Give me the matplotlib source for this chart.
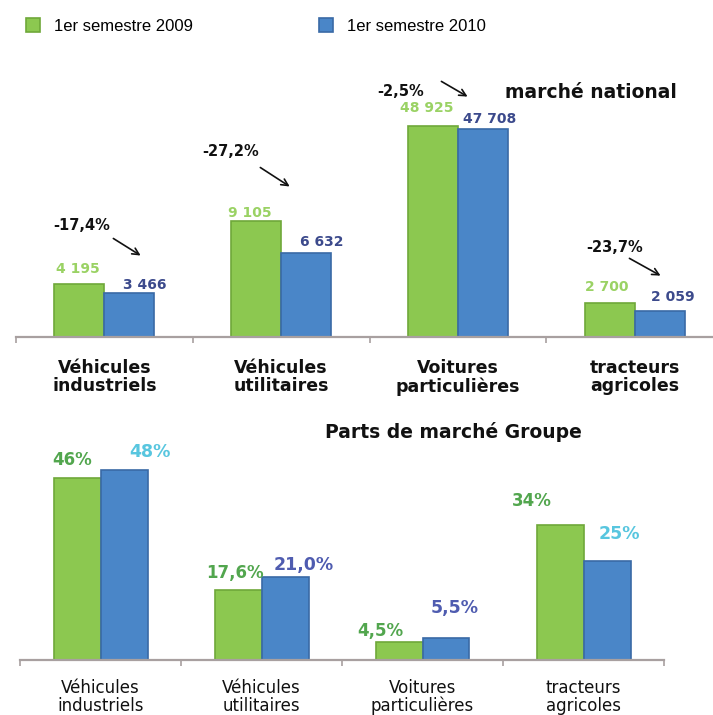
import numpy as np
import matplotlib
matplotlib.use("Agg")
import matplotlib.pyplot as plt

# ---------------- data ----------------
categories = ["Véhicules\nindustriels", "Véhicules\nutilitaires",
              "Voitures\nparticulières", "tracteurs\nagricoles"]
series_names = ["1er semestre 2009", "1er semestre 2010"]

national_2009 = [4195, 9105, 48925, 2700]
national_2010 = [3466, 6632, 47708, 2059]
national_labels_2009 = ["4 195", "9 105", "48 925", "2 700"]
national_labels_2010 = ["3 466", "6 632", "47 708", "2 059"]
national_change = ["-17,4%", "-27,2%", "-2,5%", "-23,7%"]

share_2009 = [46, 17.6, 4.5, 34]
share_2010 = [48, 21.0, 5.5, 25]
share_labels_2009 = ["46%", "17,6%", "4,5%", "34%"]
share_labels_2010 = ["48%", "21,0%", "5,5%", "25%"]

title_top = "marché national"
title_bottom = "Parts de marché Groupe"

# ---------------- style ----------------
GREEN = "#8cc850"
GREEN_EDGE = "#6fa83a"
BLUE = "#4a86c8"
BLUE_EDGE = "#3a6aa6"
AXIS_C = "#a8a0a0"
LBL_GREEN_TOP = "#9ad264"
LBL_NAVY_TOP = "#3c4a8c"
LBL_GREEN_BOT = "#52a64e"
LBL_CYAN = "#58c6df"
LBL_PURPLE = "#4f5cb0"

W, H = 713, 715
fig = plt.figure(figsize=(W / 100, H / 100), dpi=100)
fig.patch.set_facecolor("white")


def fx(px):
    return px / W


def fy(py):
    return 1 - py / H


# broken-style scale for the national market panel (large category compressed)
B, K = 10000.0, 0.17


def fwd(v):
    v = np.asarray(v, dtype=float)
    return np.where(v <= B, v, B + (v - B) * K)


def inv(t):
    t = np.asarray(t, dtype=float)
    return np.where(t <= B, t, B + (t - B) / K)


def style_axis(ax, nb):
    for s in ["left", "right", "top"]:
        ax.spines[s].set_visible(False)
    ax.spines["bottom"].set_color(AXIS_C)
    ax.spines["bottom"].set_linewidth(1.6)
    ax.set_yticks([])
    ax.set_xlim(0, nb)
    ax.set_xticks(np.arange(nb + 1))
    ax.set_xticklabels([])
    ax.tick_params(axis="x", which="major", length=4, width=1.2, color=AXIS_C, direction="out")
    ax.set_xticks(np.arange(nb) + 0.5, minor=True)
    ax.tick_params(axis="x", which="minor", length=0)
    ax.patch.set_alpha(0)


n = len(categories)
x = np.arange(n) + 0.5

# ---------------- top panel ----------------
ax1 = fig.add_axes([fx(16), fy(337), fx(723) - fx(16), (337 - 60) / H])
ax1.set_yscale("function", functions=(fwd, inv))
px_per_unit = 0.0127
ax1.set_ylim(0, float(inv((337 - 60) / px_per_unit)))
style_axis(ax1, n)
w1 = 50 / 176.75
b1 = ax1.bar(x - w1 / 2, national_2009, w1, color=GREEN, edgecolor=GREEN_EDGE,
             linewidth=1.2, label=series_names[0], zorder=2)
b2 = ax1.bar(x + w1 / 2, national_2010, w1, color=BLUE, edgecolor=BLUE_EDGE,
             linewidth=1.2, label=series_names[1], zorder=2)
ax1.set_xticklabels(categories, minor=True, fontsize=12.5, fontweight="bold",
                    color="#111111", linespacing=1.0)
ax1.tick_params(axis="x", which="minor", pad=16)

off_top_g = [(-1, 15), (-6, 8), (-6, 18), (-3, 16)]
off_top_b = [(15, 8), (16, 11), (7, 10), (13, 14)]
for i in range(n):
    ax1.annotate(national_labels_2009[i], (x[i] - w1 / 2, national_2009[i]),
                 xytext=off_top_g[i], textcoords="offset pixels", ha="center", va="center",
                 fontsize=10, fontweight="bold", color=LBL_GREEN_TOP)
    ax1.annotate(national_labels_2010[i], (x[i] + w1 / 2, national_2010[i]),
                 xytext=off_top_b[i], textcoords="offset pixels", ha="center", va="center",
                 fontsize=10, fontweight="bold", color=LBL_NAVY_TOP)

# change annotations (image pixel positions)
chg_text_pos = [(82, 226), (231, 152), (401, 92), (615, 247)]
chg_arrows = [((111, 237), (143, 257)), ((258, 166), (292, 188)),
              ((439, 80), (470, 98)), ((627, 257), (663, 277))]
for i in range(n):
    tx, ty = chg_text_pos[i]
    fig.text(fx(tx), fy(ty), national_change[i], ha="center", va="center",
             fontsize=10.5, fontweight="bold", color="#111111")
    (x0, y0), (x1, y1) = chg_arrows[i]
    fig.add_artist(matplotlib.patches.FancyArrowPatch(
        (fx(x0), fy(y0)), (fx(x1), fy(y1)), transform=fig.transFigure,
        arrowstyle="->", mutation_scale=12, color="#111111", linewidth=1.2))

fig.text(fx(591), fy(93), title_top, ha="center", va="center",
         fontsize=13.5, fontweight="bold", color="#111111")

# ---------------- bottom panel ----------------
ax2 = fig.add_axes([fx(20), fy(660), fx(664) - fx(20), (660 - 440) / H])
ax2.set_ylim(0, 220 / 3.96)
style_axis(ax2, n)
w2 = 47 / 161
ax2.bar(x - w2 / 2, share_2009, w2, color=GREEN, edgecolor=GREEN_EDGE, linewidth=1.2, zorder=2)
ax2.bar(x + w2 / 2, share_2010, w2, color=BLUE, edgecolor=BLUE_EDGE, linewidth=1.2, zorder=2)
ax2.set_xticklabels(categories, minor=True, fontsize=12, color="#111111", linespacing=0.95)
ax2.tick_params(axis="x", which="minor", pad=14)

off_bot_g = [(-5, 18), (-3, 17), (-19, 11), (-28, 24)]
off_bot_b = [(26, 18), (19, 12), (9, 30), (12, 27)]
col_bot_b = [LBL_CYAN, LBL_PURPLE, LBL_PURPLE, LBL_CYAN]
for i in range(n):
    ax2.annotate(share_labels_2009[i], (x[i] - w2 / 2, share_2009[i]),
                 xytext=off_bot_g[i], textcoords="offset pixels", ha="center", va="center",
                 fontsize=12, fontweight="bold", color=LBL_GREEN_BOT)
    ax2.annotate(share_labels_2010[i], (x[i] + w2 / 2, share_2010[i]),
                 xytext=off_bot_b[i], textcoords="offset pixels", ha="center", va="center",
                 fontsize=12.5, fontweight="bold", color=col_bot_b[i])

fig.text(fx(453), fy(432), title_bottom, ha="center", va="center",
         fontsize=13.5, fontweight="bold", color="#111111")

# ---------------- legend ----------------
fig.legend(handles=[b1, b2], labels=series_names, loc="center left",
           bbox_to_anchor=(fx(26), fy(26)), ncol=2, frameon=False,
           prop={"family": "Liberation Sans", "size": 12},
           handlelength=0.85, handleheight=0.85, handletextpad=0.8,
           columnspacing=7.6, borderaxespad=0, borderpad=0)

fig.savefig("out.png", dpi=100, facecolor="white")
